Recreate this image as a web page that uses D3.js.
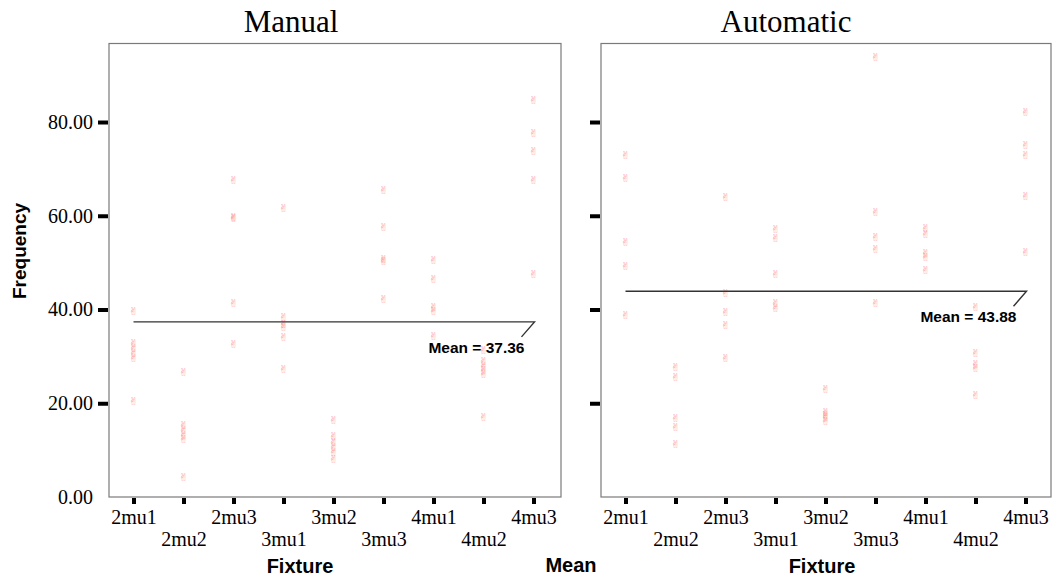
<!DOCTYPE html>
<html>
<head>
<meta charset="utf-8">
<script src="https://d3js.org/d3.v7.min.js"></script>
<style>
  body { margin: 0; background: #fff; }
  svg { display: block; }
</style>
</head>
<body>
<div id="chart"></div>
<script>
// categories
var fixtures = ["2mu1", "2mu2", "2mu3", "3mu1", "3mu2", "3mu3", "4mu1", "4mu2", "4mu3"]

// frequency values per fixture
var manualValues = [
  [39.7, 32.8, 31.8, 30.8, 29.6, 20.5],
  [26.6, 15.3, 14.2, 13.2, 12.4, 4.3],
  [67.6, 59.8, 59.6, 41.3, 32.6],
  [61.6, 38.5, 37.0, 36.2, 34.2, 27.4],
  [16.5, 13.0, 11.8, 10.6, 9.6, 8.2],
  [65.5, 57.5, 50.8, 50.4, 42.2],
  [50.6, 46.6, 40.6, 39.6, 34.4],
  [31.4, 29.0, 28.0, 27.0, 26.2, 17.1],
  [84.7, 77.6, 73.8, 67.6, 47.5]
]
var automaticValues = [
  [72.9, 68.0, 54.5, 49.3, 38.8],
  [27.8, 25.5, 16.8, 15.0, 11.3],
  [64.1, 43.5, 39.5, 36.6, 29.6],
  [57.1, 55.3, 47.5, 41.3, 40.3],
  [23.0, 18.2, 17.6, 17.0, 16.2],
  [93.8, 60.9, 55.5, 53.0, 41.3],
  [57.3, 56.2, 52.0, 51.1, 48.4],
  [40.6, 30.8, 28.3, 27.6, 21.8],
  [82.1, 75.1, 73.0, 64.2, 52.2]
]
var panelTitles = ["Manual", "Automatic"]
var panelMeans = [37.36, 43.88]
var yTicks = [0, 20, 40, 60, 80]
var yMax = 96.75

var svg = d3.select('#chart').append('svg')
  .attr('width', 1053)
  .attr('height', 580)

var plotTop = 43.5, plotBottom = 497
var y = d3.scaleLinear().domain([0, yMax]).range([plotBottom, plotTop])

var panels = [
  { title: panelTitles[0], values: manualValues, mean: panelMeans[0], x0: 109, x1: 561, titleX: 291, fixX: 300, labels: true },
  { title: panelTitles[1], values: automaticValues, mean: panelMeans[1], x0: 601, x1: 1051, titleX: 786, fixX: 822, labels: false }
]

var serif = "'Liberation Serif', 'Times New Roman', serif"
var sans = "'Liberation Sans', Arial, sans-serif"

panels.forEach(function(p) {
  var g = svg.append('g')

  var x = d3.scalePoint()
    .domain(fixtures)
    .range([p.x0 + 24.5, p.x0 + 424.5])

  // frame
  g.append('rect')
    .attr('x', p.x0).attr('y', plotTop)
    .attr('width', p.x1 - p.x0).attr('height', plotBottom - plotTop)
    .attr('fill', 'none')
    .attr('stroke', '#7a7a7a')
    .attr('stroke-width', 1.2)

  // title
  g.append('text')
    .attr('x', p.titleX).attr('y', 32)
    .attr('text-anchor', 'middle')
    .style('font-family', serif)
    .style('font-size', '31px')
    .text(p.title)

  // y axis
  var yAxis = d3.axisLeft(y).tickValues(yTicks).tickSize(10).tickPadding(5)
    .tickFormat(p.labels ? d3.format('.2f') : '')
  var ya = g.append('g')
    .attr('transform', 'translate(' + (p.x0 - 1) + ',0)')
    .call(yAxis)
  ya.select('.domain').remove()
  ya.selectAll('.tick line').attr('stroke', '#000').attr('stroke-width', 4)
    .attr('display', function(d) { return d === 0 ? 'none' : null })
  ya.selectAll('.tick text')
    .attr('x', -15)
    .style('font-family', serif)
    .style('font-size', '20px')
    .attr('fill', '#000')

  // x axis
  var xa = g.append('g')
    .attr('transform', 'translate(0,' + (plotBottom + 1) + ')')
    .call(d3.axisBottom(x).tickSize(6).tickPadding(4))
  xa.select('.domain').remove()
  xa.selectAll('.tick line').attr('stroke', '#000').attr('stroke-width', 4)
  xa.selectAll('.tick text')
    .attr('y', function(d, i) { return i % 2 ? 34 : 12 })
    .style('font-family', serif)
    .style('font-size', '20px')
    .attr('fill', '#000')

  // x title
  g.append('text')
    .attr('x', p.fixX).attr('y', 573)
    .attr('text-anchor', 'middle')
    .style('font-family', sans)
    .style('font-weight', 'bold')
    .style('font-size', '20px')
    .text('Fixture')

  // points
  var pts = []
  p.values.forEach(function(vals, i) {
    vals.forEach(function(v) { pts.push({ f: fixtures[i], v: v }) })
  })
  g.selectAll('.pt').data(pts).enter().append('text')
    .attr('class', 'pt')
    .attr('transform', function(d) { return 'translate(' + x(d.f) + ',' + (y(d.v) + 4) + ') scale(1.1,1)' })
    .attr('text-anchor', 'middle')
    .style('font-family', "'DejaVu Sans', sans-serif")
    .style('font-size', '11px')
    .attr('fill', '#ff8a8a')
    .attr('fill-opacity', 0.85)
    .text('\u270C')

  // mean line
  var my = y(p.mean)
  var xs = x(fixtures[0]), xe = x(fixtures[fixtures.length - 1])
  g.append('path')
    .attr('d', d3.line()([[xs, my], [xe + 1, my], [xe - 12, my + 15]]))
    .attr('fill', 'none')
    .attr('stroke', '#333')
    .attr('stroke-width', 1.4)
  g.append('text')
    .attr('x', xe - 9).attr('y', my + 31)
    .attr('text-anchor', 'end')
    .style('font-family', sans)
    .style('font-weight', 'bold')
    .style('font-size', '15.5px')
    .text('Mean = ' + p.mean.toFixed(2))
})

// y title
svg.append('text')
  .attr('transform', 'translate(26,251) rotate(-90)')
  .attr('text-anchor', 'middle')
  .style('font-family', sans)
  .style('font-weight', 'bold')
  .style('font-size', '19px')
  .text('Frequency')

// shared label under the panels
svg.append('text')
  .attr('x', 571).attr('y', 572)
  .attr('text-anchor', 'middle')
  .style('font-family', sans)
  .style('font-weight', 'bold')
  .style('font-size', '20px')
  .text('Mean')
</script>
</body>
</html>
